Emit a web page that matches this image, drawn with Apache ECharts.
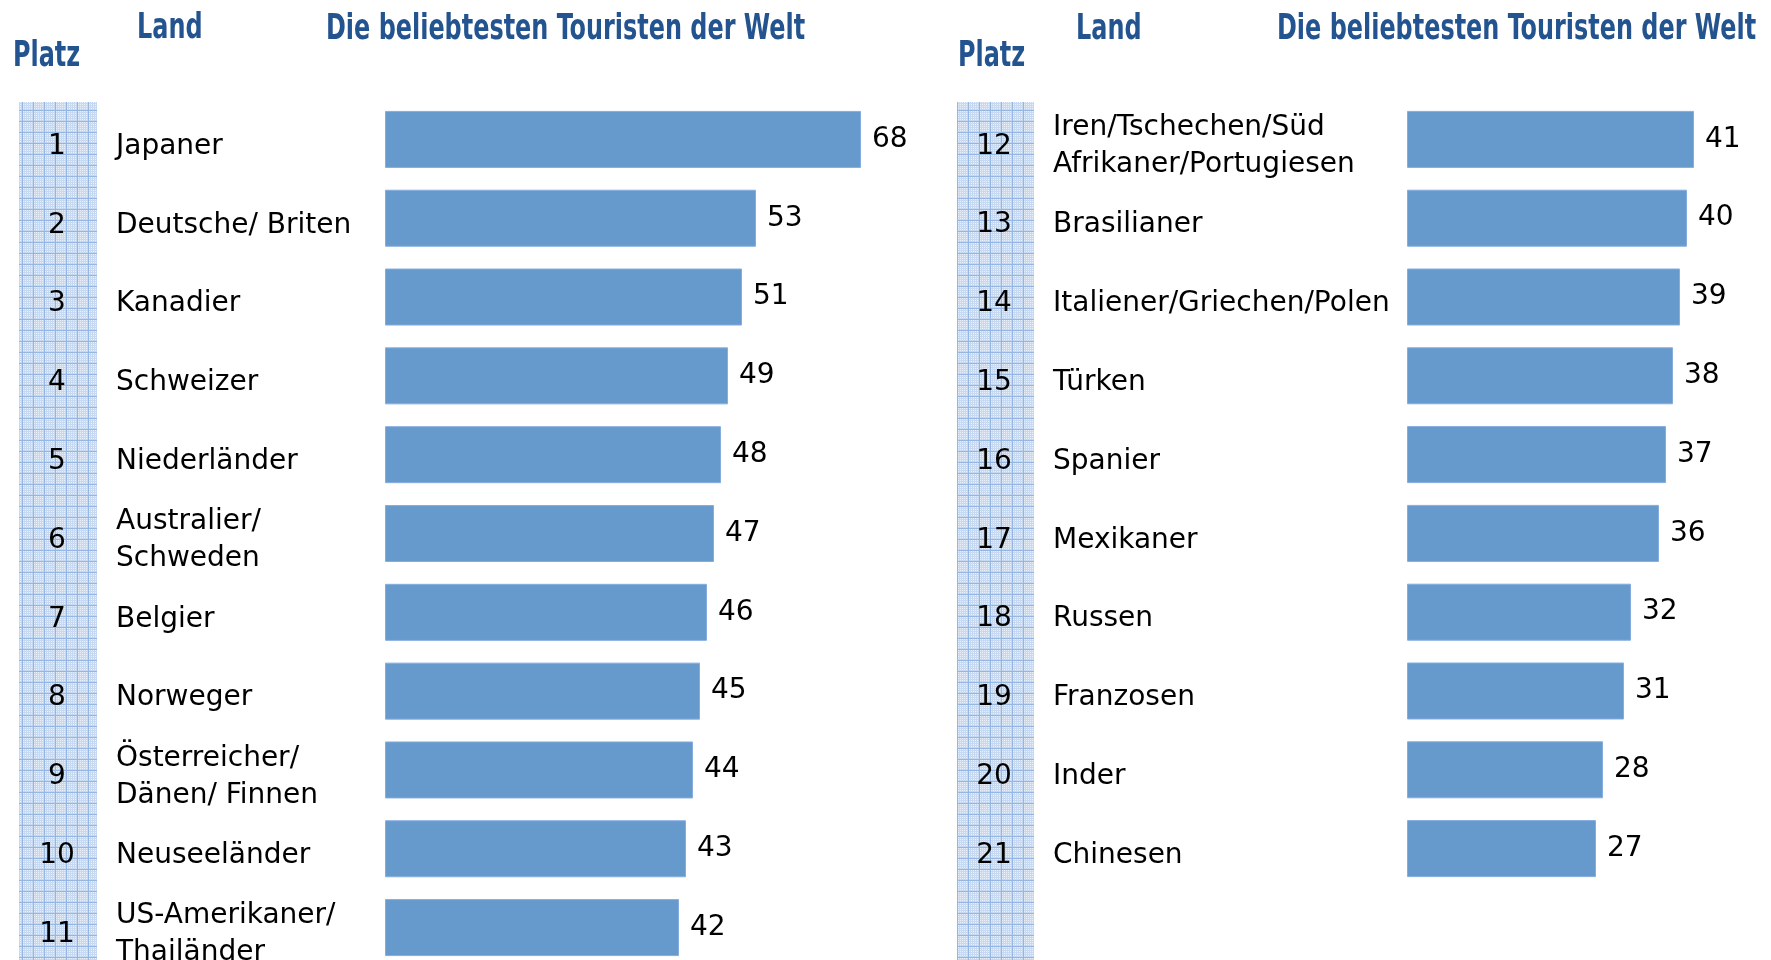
<!DOCTYPE html>
<html>
  <head>
    <meta charset="utf-8">
    <title></title>
    <style>
      html, body{ margin: 0; padding: 0; background: #fff; }
      #wrap{ width: 1771px; height: 960px; }
    </style>
    <script src="https://cdn.jsdelivr.net/npm/echarts@6/dist/echarts.min.js" charset="utf-8"></script>
  </head>
  <body>
    <div id="wrap"></div>
    <script>
      // linke Tabelle: Platz 1-11
      var ranksLeft = ['1', '2', '3', '4', '5', '6', '7', '8', '9', '10', '11'];
      var namesLeft = ['Japaner', 'Deutsche/ Briten', 'Kanadier', 'Schweizer', 'Niederländer',
        'Australier/\nSchweden', 'Belgier', 'Norweger', 'Österreicher/\nDänen/ Finnen',
        'Neuseeländer', 'US-Amerikaner/\nThailänder'];
      var valuesLeft = [68, 53, 51, 49, 48, 47, 46, 45, 44, 43, 42];

      // rechte Tabelle: Platz 12-21
      var ranksRight = ['12', '13', '14', '15', '16', '17', '18', '19', '20', '21'];
      var namesRight = ['Iren/Tschechen/Süd\nAfrikaner/Portugiesen', 'Brasilianer',
        'Italiener/Griechen/Polen', 'Türken', 'Spanier', 'Mexikaner', 'Russen',
        'Franzosen', 'Inder', 'Chinesen'];
      var valuesRight = [41, 40, 39, 38, 37, 36, 32, 31, 28, 27];

      var headerPlatz = 'Platz';
      var headerLand = 'Land';
      var headerTitle = 'Die beliebtesten Touristen der Welt';

      var blue = '#6699cc';
      var headColor = '#24548f';
      var font = '"DejaVu Sans", Verdana, sans-serif';
      var headFont = '"Liberation Sans Narrow", "DejaVu Sans Condensed", "Arial Narrow", sans-serif';

      // kariertes Muster fuer die Platz-Spalte
      function makePattern(){
        var c = document.createElement('canvas');
        c.width = 11; c.height = 11;
        var ctx = c.getContext('2d');
        ctx.fillStyle = '#c6d9f1';
        ctx.fillRect(0, 0, 11, 11);
        ctx.fillStyle = '#e6effa';
        for(var y=1;y<11;y+=2){
          for(var x=1;x<11;x+=2){
            ctx.fillRect(x, y, 1, 1);
          }
        }
        ctx.fillStyle = '#94b6e0';
        ctx.fillRect(0, 0, 11, 1);
        ctx.fillRect(0, 0, 1, 11);
        return c;
      }
      var pattern = makePattern();

      var wrap = document.getElementById('wrap');
      var chart = echarts.init(wrap);

      // leere Zeile oben, damit der Text etwas tiefer als die Balkenmitte sitzt
      function shiftDown(v){
        return '{s|}\n' + v;
      }

      function nameAxis(grid, names, margin){
        return {
          type: 'category', gridIndex: grid, data: names, inverse: true, position: 'left',
          axisLine: {show: false}, axisTick: {show: false}, splitLine: {show: false},
          axisLabel: {
            align: 'left', margin: margin, color: '#000', fontSize: 28,
            fontFamily: font, lineHeight: 37, interval: 0, formatter: shiftDown,
            rich: {s: {height: 14, lineHeight: 14, fontSize: 10}}
          }
        };
      }
      function rankAxis(grid, ranks, margin){
        return {
          type: 'category', gridIndex: grid, data: ranks, inverse: true, position: 'left',
          axisLine: {show: false}, axisTick: {show: false}, splitLine: {show: false},
          axisLabel: {
            align: 'center', margin: margin, color: '#000', fontSize: 28,
            fontFamily: font, lineHeight: 37, interval: 0, formatter: shiftDown,
            rich: {s: {height: 14, lineHeight: 14, fontSize: 10}}
          }
        };
      }
      function barSeries(xi, yi, values){
        return {
          type: 'bar', xAxisIndex: xi, yAxisIndex: yi, data: values,
          barWidth: 57, silent: true, animation: false,
          itemStyle: {color: blue, borderColor: '#85ade0', borderWidth: 1},
          label: {
            show: true, position: 'right', distance: 11, color: '#000',
            fontSize: 28, fontFamily: font
          }
        };
      }
      // Ueberschriften: schmale fette Schrift, horizontal gestaucht
      function headText(x, y, text){
        return {
          type: 'text', x: x, y: y, scaleX: 0.76,
          style: {text: text, fill: headColor, font: 'bold 35px ' + headFont}
        };
      }

      var option = {
        animation: false,
        grid: [
          {left: 385, top: 100, width: 490, height: 867, outerBoundsMode: 'none'},
          {left: 1407, top: 100, width: 350, height: 788, outerBoundsMode: 'none'}
        ],
        xAxis: [
          {type: 'value', gridIndex: 0, min: 0, max: 70, show: false},
          {type: 'value', gridIndex: 1, min: 0, max: 50, show: false}
        ],
        yAxis: [
          nameAxis(0, namesLeft, 269),
          rankAxis(0, ranksLeft, 328),
          nameAxis(1, namesRight, 354),
          rankAxis(1, ranksRight, 413)
        ],
        series: [
          barSeries(0, 0, valuesLeft),
          barSeries(1, 2, valuesRight)
        ],
        graphic: [
          {type: 'rect', z: -1, shape: {x: 19, y: 102, width: 78, height: 858},
            style: {fill: {image: pattern, repeat: 'repeat'}}},
          {type: 'rect', z: -1, shape: {x: 957, y: 102, width: 77, height: 858},
            style: {fill: {image: pattern, repeat: 'repeat'}}},
          headText(13, 39, headerPlatz),
          headText(137, 11, headerLand),
          headText(326, 12, headerTitle),
          headText(958, 39, headerPlatz),
          headText(1076, 12, headerLand),
          headText(1277, 12, headerTitle)
        ]
      };
      chart.setOption(option);
    </script>
  </body>
</html>
